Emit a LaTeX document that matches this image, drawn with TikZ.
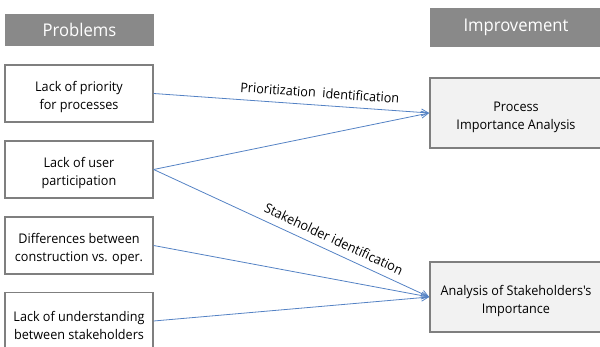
\documentclass[tikz,border=0pt]{standalone}
\usepackage{fontspec}
\setmainfont{Open Sans}[Ligatures=TeXOff, FakeStretch=0.95]
\usetikzlibrary{arrows.meta}
\definecolor{hdrgray}{RGB}{137,137,137}
\definecolor{boxline}{RGB}{127,127,127}
\definecolor{lightfill}{RGB}{242,242,242}
\definecolor{linkblue}{RGB}{84,130,196}
\begin{document}
\begin{tikzpicture}[x=1pt,y=-1pt,
  header/.style={fill=hdrgray, draw=none, text=white, font=\fontsize{17.5}{20}\selectfont,
    minimum height=32pt, inner sep=0pt},
  problem/.style={draw=boxline, line width=1.3pt, fill=white, minimum width=148pt,
    minimum height=57pt, inner sep=0pt},
  result/.style={draw=boxline, line width=1.6pt, fill=lightfill, minimum width=172pt,
    minimum height=70pt, inner sep=0pt},
  % box captions sit slightly below the middle of their frames
  caption/.style={align=center, inner sep=0pt, yshift=-4pt, font=\fontsize{13.3}{18}\selectfont},
  link/.style={draw=linkblue, line width=0.8pt, -{Straight Barb[length=7pt,width=7pt]}},
  lbl/.style={font=\fontsize{13.3}{15}\selectfont, sloped, above, inner sep=0pt, yshift=7pt}
]
\useasboundingbox (0,0) rectangle (600,347);

% column headers
\node[header, minimum width=149pt] (hp) at (79.5,30) {Problems};
\node[header, minimum width=172pt, minimum height=39pt] (hi) at (516,27.5) {Improvement};

% problem boxes
\node[problem] (b1) at (79,93.5) {};
\node[problem] (b2) at (79,169.5) {};
\node[problem] (b3) at (79,245.5) {};
\node[problem] (b4) at (79,321) {};
\node[caption] (t1) at (b1) {Lack of priority\\for processes};
\node[caption] (t2) at (b2) {Lack of user\\participation};
\node[caption] (t3) at (b3) {Differences between\\construction vs. oper.};
\node[caption] (t4) at (b4) {Lack of understanding\\between stakeholders};

% improvement boxes
\node[result] (r1) at (516,113) {};
\node[result] (r2) at (516,297) {};
\node[caption] (u1) at (r1) {Process\\Importance Analysis};
\node[caption] (u2) at (r2) {Analysis of Stakeholders's\\Importance};

% connectors
\draw[link] (b1.east) -- node[lbl, pos=0.6] {Prioritization\ \ identification} (r1.west);
\draw[link] (b2.east) -- (r1.west);
\draw[link] (b2.east) -- node[lbl, pos=0.635] {Stakeholder identification} (r2.west);
\draw[link] (b3.east) -- (r2.west);
\draw[link] (b4.east) -- (r2.west);
\end{tikzpicture}
\end{document}
